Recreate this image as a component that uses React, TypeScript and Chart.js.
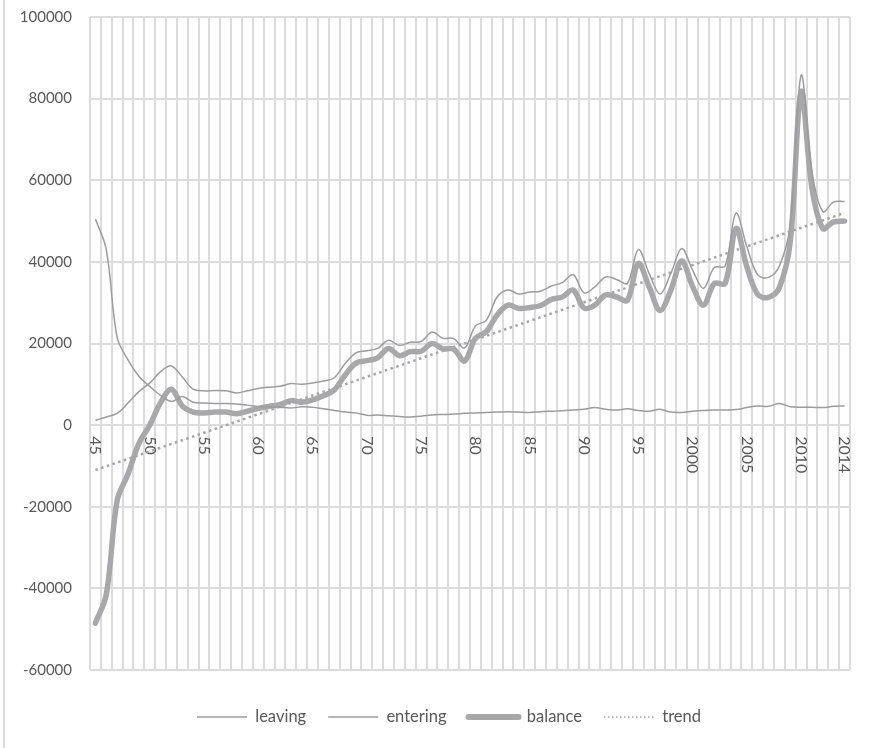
import React, { useEffect, useRef } from "react";
import { Chart, registerables } from "chart.js";

Chart.register(...registerables);

const years = [
  1945, 1946, 1947, 1948, 1949, 1950, 1951, 1952, 1953, 1954,
  1955, 1956, 1957, 1958, 1959, 1960, 1961, 1962, 1963, 1964,
  1965, 1966, 1967, 1968, 1969, 1970, 1971, 1972, 1973, 1974,
  1975, 1976, 1977, 1978, 1979, 1980, 1981, 1982, 1983, 1984,
  1985, 1986, 1987, 1988, 1989, 1990, 1991, 1992, 1993, 1994,
  1995, 1996, 1997, 1998, 1999, 2000, 2001, 2002, 2003, 2004,
  2005, 2006, 2007, 2008, 2009, 2010, 2011, 2012, 2013, 2014,
];

const leaving = [
  50500, 43000, 21500, 16000, 12000, 9500, 7300, 5800, 7000, 5600,
  5400, 5300, 5300, 5200, 4900, 4500, 4500, 4400, 4200, 4500,
  4400, 4000, 3600, 3200, 3000, 2400, 2500, 2300, 2100, 2000,
  2200, 2500, 2600, 2700, 2900, 3000, 3100, 3200, 3300, 3200,
  3100, 3300, 3400, 3500, 3700, 3900, 4300, 3900, 3700, 4000,
  3600, 3400, 3900, 3200, 3100, 3400, 3600, 3700, 3700, 3800,
  4300, 4700, 4600, 5300, 4500, 4400, 4400, 4300, 4600, 4700,
];

const entering = [
  1200, 2000, 2900, 5400, 8200, 10300, 13100, 14500, 11800, 8800,
  8400, 8500, 8400, 7900, 8400, 9000, 9300, 9500, 10200, 10000,
  10300, 10800, 11600, 15100, 17700, 18200, 18800, 20800, 19500, 20300,
  20500, 22800, 21300, 21200, 18900, 24300, 25700, 31400, 33100, 32100,
  32600, 32800, 34100, 34900, 36900, 32400, 33900, 36300, 35700, 34700,
  43000, 37200, 32100, 37200, 43300, 38000, 33500, 38600, 39000, 51900,
  43700, 36800, 36200, 39000, 49000, 85700, 62000, 52300, 54700, 54800,
];

const balance = [
  -48500, -41500, -18500, -12000, -4500, 0, 5500, 8800, 4700, 3200,
  3000, 3200, 3200, 2800, 3400, 4100, 4600, 5000, 6000, 5600,
  6200, 7200, 8600, 12300, 15200, 15800, 16500, 18800, 17000, 18000,
  18100, 20000, 18700, 18600, 15700, 21300, 22900, 27000, 29400, 28600,
  28800, 29300, 30800, 31400, 33100, 28700, 29400, 31900, 31400, 30600,
  39600, 33900, 28100, 33100, 40200, 34000, 29400, 34700, 34700, 48200,
  38800, 32000, 31300, 33700, 45000, 81700, 58000, 48200, 49800, 50000,
];

const trendStart = -11000;
const trendEnd = 52000;

const xTickYears = [1945, 1950, 1955, 1960, 1965, 1970, 1975, 1980, 1985, 1990, 1995, 2000, 2005, 2010, 2014];
const xTickLabels = ["45", "50", "55", "60", "65", "70", "75", "80", "85", "90", "95", "2000", "2005", "2010", "2014"];

const yMin = -60000;
const yMax = 100000;
const yStep = 20000;

const FONT = "Lato, 'Open Sans', 'DejaVu Sans', sans-serif";
const TEXT = "#595959";
const GRID = "#dcdcdc";

export default function App() {
  const ref = useRef<HTMLCanvasElement | null>(null);

  useEffect(() => {
    if (!ref.current) return;
    const trend = years.map((_, i) =>
      i === 0 ? trendStart : i === years.length - 1 ? trendEnd : null
    );

    const xLabelPlugin = {
      id: "rotatedXLabels",
      afterLayout(chart: any) {
        if (chart.legend) {
          chart.legend.left = 48;
        }
      },
      beforeDatasetsDraw(chart: any) {
        const { ctx, scales } = chart;
        const xs = scales.x;
        const ys = scales.y;
        const y0 = ys.getPixelForValue(0);
        ctx.save();
        ctx.font = `16px ${FONT}`;
        ctx.fillStyle = TEXT;
        ctx.textAlign = "left";
        ctx.textBaseline = "middle";
        xTickYears.forEach((yr, k) => {
          const idx = years.indexOf(yr);
          const px = xs.getPixelForValue(idx);
          ctx.save();
          ctx.translate(px, y0 + 11);
          ctx.rotate(Math.PI / 2);
          ctx.fillText(xTickLabels[k], 0, 0);
          ctx.restore();
        });
        ctx.restore();
      },
    };

    const chart = new Chart(ref.current, {
      type: "line",
      data: {
        labels: years.map(String),
        datasets: [
          {
            label: "leaving",
            data: leaving,
            borderColor: "#9c9c9c",
            backgroundColor: "#9c9c9c",
            borderWidth: 1.5,
            pointRadius: 0,
            tension: 0.35,
            fill: false,
          },
          {
            label: "entering",
            data: entering,
            borderColor: "#9c9c9c",
            backgroundColor: "#9c9c9c",
            borderWidth: 1.5,
            pointRadius: 0,
            tension: 0.35,
            fill: false,
          },
          {
            label: "balance",
            data: balance,
            borderColor: "#a8a8aa",
            backgroundColor: "#a8a8aa",
            borderWidth: 5.5,
            borderCapStyle: "round",
            borderJoinStyle: "round",
            pointRadius: 0,
            tension: 0.35,
            fill: false,
          },
          {
            label: "trend",
            data: trend,
            borderColor: "#a5a5a5",
            backgroundColor: "#a5a5a5",
            borderWidth: 2.5,
            borderDash: [2.5, 3.5],
            pointRadius: 0,
            spanGaps: true,
            fill: false,
          },
        ],
      },
      options: {
        responsive: false,
        animation: false,
        layout: { padding: { left: 0, right: 23, top: 17, bottom: 12.75 } },
        plugins: {
          tooltip: { enabled: false },
          legend: {
            position: "bottom",
            labels: {
              usePointStyle: true,
              pointStyle: "line",
              pointStyleWidth: 50,
              padding: 22,
              color: TEXT,
              font: { family: FONT, size: 16.5 },
              generateLabels: (ch: any) => {
                const items = Chart.defaults.plugins.legend.labels.generateLabels(ch);
                return items.map((it: any) => {
                  const ds: any = ch.data.datasets[it.datasetIndex];
                  return {
                    ...it,
                    lineWidth: ds.label === "trend" ? 1.5 : ds.label === "balance" ? 6 : ds.borderWidth,
                    lineDash: ds.label === "trend" ? [1.5, 2.5] : [],
                    strokeStyle: ds.borderColor,
                    lineCap: ds.borderCapStyle || "butt",
                  };
                });
              },
            },
          },
        },
        scales: {
          x: {
            type: "category",
            offset: true,
            grid: { color: GRID, lineWidth: 2, offset: true, drawTicks: false },
            border: { display: false },
            ticks: { display: false, autoSkip: false },
            afterFit: (s: any) => {
              s.height = 16.75;
            },
          },
          y: {
            min: yMin,
            max: yMax,
            grid: { color: GRID, lineWidth: 2, drawTicks: false },
            border: { display: false },
            ticks: {
              stepSize: yStep,
              padding: 18,
              color: TEXT,
              font: { family: FONT, size: 15 },
              callback: (v: any) => String(v),
            },
            afterFit: (s: any) => {
              s.width = 90;
              s.paddingTop = 0;
              s.paddingBottom = 0;
            },
          },
        },
      },
      plugins: [xLabelPlugin],
    } as any);

    return () => chart.destroy();
  }, []);

  return (
    <div style={{ position: "absolute", left: 0, top: 0, width: 873, height: 748, background: "#fff", overflow: "hidden" }}>
      <div style={{ position: "absolute", left: 3, top: 0, width: 2, height: 748, background: GRID }} />
      <canvas ref={ref} width={873} height={748} style={{ display: "block", width: 873, height: 748 }} />
    </div>
  );
}
